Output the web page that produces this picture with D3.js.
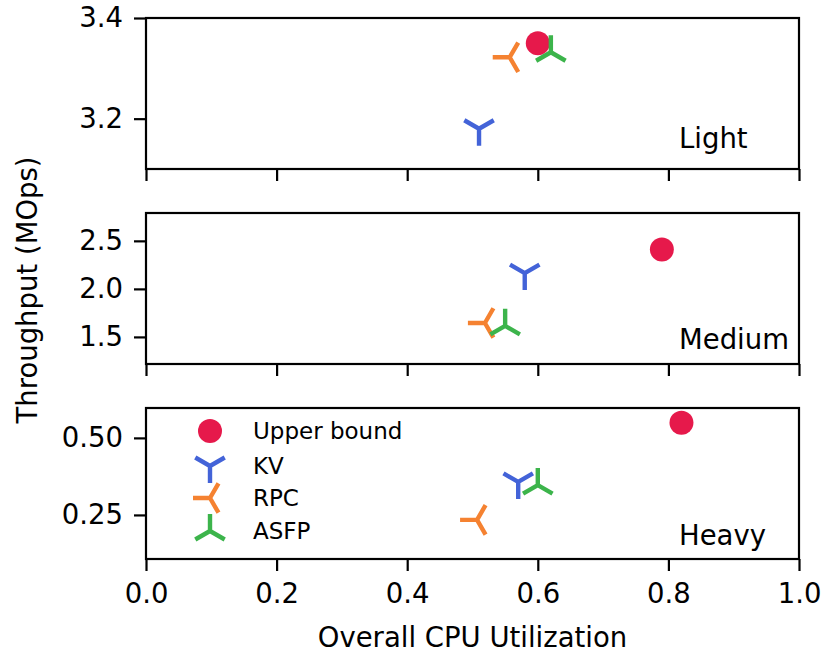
<!DOCTYPE html>
<html>
<head>
<meta charset="utf-8">
<script src="https://cdn.jsdelivr.net/npm/d3@7"></script>
<style>
  body { margin: 0; background: #fff; }
  svg { display: block; font-family: "DejaVu Sans", sans-serif; }
</style>
</head>
<body>
<svg id="chart" width="825" height="655"></svg>
<script>
// Workload panels and series
const panels = ["Light", "Medium", "Heavy"];
const seriesNames = ["Upper bound", "KV", "RPC", "ASFP"];

// CPU utilization (x) per series, one entry per panel
const upperX = [0.60, 0.79, 0.82];
const kvX    = [0.51, 0.58, 0.57];
const rpcX   = [0.557, 0.519, 0.507];
const asfpX  = [0.62, 0.55, 0.60];

// Throughput in MOps (y) per series, one entry per panel
const upperY = [3.35, 2.41, 0.549];
const kvY    = [3.18, 2.165, 0.357];
const rpcY   = [3.322, 1.645, 0.234];
const asfpY  = [3.332, 1.615, 0.347];

// Axis domains and ticks
const xTicks = [0.0, 0.2, 0.4, 0.6, 0.8, 1.0];
const yDomains = [[3.1, 3.4], [1.218, 2.79], [0.107, 0.597]];
const yTicks = [[3.2, 3.4], [1.5, 2.0, 2.5], [0.25, 0.50]];
const yTickFormats = [".1f", ".1f", ".2f"];

const colors = { "Upper bound": "#e6194b", "KV": "#4363d8", "RPC": "#f58231", "ASFP": "#3cb44b" };
const markers = { "Upper bound": "circle", "KV": "tri_down", "RPC": "tri_left", "ASFP": "tri_up" };

const svg = d3.select("#chart");
const left = 146, right = 799;
const panelTop = [18, 213, 408];
const panelH = 151;
// distance of each workload label's baseline above its panel's bottom edge
const labelLift = [21, 15, 14];

const x = d3.scaleLinear().domain([0, 1]).range([left, right]);

const xs = { "Upper bound": upperX, "KV": kvX, "RPC": rpcX, "ASFP": asfpX };
const ys = { "Upper bound": upperY, "KV": kvY, "RPC": rpcY, "ASFP": asfpY };

// Tri-style markers: three spokes from the centre at the given angles (degrees, screen coords)
const spokeAngles = { tri_down: [90, 210, 330], tri_left: [180, 300, 60], tri_up: [270, 150, 30] };
const spokeLen = 17;

function drawMarker(g, kind, cx, cy, color) {
  if (kind === "circle") {
    g.append("circle").attr("cx", cx).attr("cy", cy).attr("r", 12).attr("fill", color);
  } else {
    const p = d3.path();
    spokeAngles[kind].forEach(a => {
      const r = a * Math.PI / 180;
      p.moveTo(cx, cy);
      p.lineTo(cx + spokeLen * Math.cos(r), cy + spokeLen * Math.sin(r));
    });
    g.append("path").attr("d", p.toString()).attr("stroke", color)
      .attr("stroke-width", 4.4).attr("fill", "none").attr("stroke-linecap", "butt");
  }
}

panels.forEach((name, i) => {
  const top = panelTop[i], bottom = top + panelH;
  const y = d3.scaleLinear().domain(yDomains[i]).range([bottom, top]);
  const g = svg.append("g");

  // points
  const pg = g.append("g");
  seriesNames.forEach(s => {
    drawMarker(pg, markers[s], x(xs[s][i]), y(ys[s][i]), colors[s]);
  });

  // frame
  g.append("rect").attr("x", left).attr("y", top).attr("width", right - left).attr("height", panelH)
    .attr("fill", "none").attr("stroke", "#000").attr("stroke-width", 2.2);

  // y axis
  const yAxis = d3.axisLeft(y).tickValues(yTicks[i]).tickFormat(d3.format(yTickFormats[i]))
    .tickSize(12).tickPadding(11);
  const ya = g.append("g").attr("transform", `translate(${left},0)`).call(yAxis);
  ya.select(".domain").remove();
  ya.selectAll("line").attr("stroke-width", 2.2);
  ya.selectAll("text").attr("font-size", 27.5).attr("fill", "#000")
    .attr("font-family", "DejaVu Sans");

  // x axis (labels only on the bottom panel)
  const xAxis = d3.axisBottom(x).tickValues(xTicks).tickFormat(i === 2 ? d3.format(".1f") : () => "")
    .tickSize(12).tickPadding(12);
  const xa = g.append("g").attr("transform", `translate(0,${bottom})`).call(xAxis);
  xa.select(".domain").remove();
  xa.selectAll("line").attr("stroke-width", 2.2);
  xa.selectAll("text").attr("font-size", 27.5).attr("fill", "#000")
    .attr("font-family", "DejaVu Sans");

  // workload label
  g.append("text").attr("x", 679).attr("y", bottom - labelLift[i]).attr("font-size", 27.5)
    .attr("fill", "#000").text(name);
});

// legend in the bottom panel
const lg = svg.append("g");
const legendY = [431, 466, 498, 531];
seriesNames.forEach((s, k) => {
  drawMarker(lg, markers[s], 210, legendY[k], colors[s]);
  lg.append("text").attr("x", 253).attr("y", legendY[k]).attr("dy", "0.35em")
    .attr("font-size", 23).attr("fill", "#000").text(s);
});

// axis titles
svg.append("text").attr("x", (left + right) / 2).attr("y", 647).attr("text-anchor", "middle")
  .attr("font-size", 27.5).attr("fill", "#000").text("Overall CPU Utilization");
svg.append("text").attr("transform", "translate(37,290) rotate(-90)").attr("text-anchor", "middle")
  .attr("font-size", 27.5).attr("fill", "#000").text("Throughput (MOps)");
</script>
</body>
</html>
